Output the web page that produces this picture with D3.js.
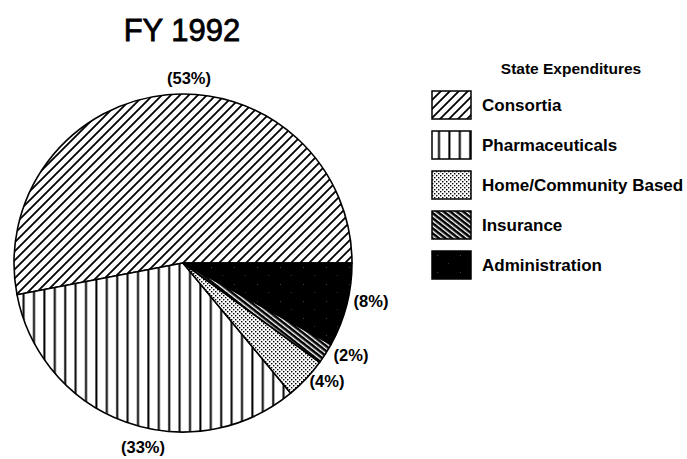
<!DOCTYPE html>
<html lang="en">
<head>
  <meta charset="UTF-8">
  <script src="https://cdn.jsdelivr.net/npm/d3@7"></script>
  <title>FY 1992</title>
  <style>
    body { margin: 0; background: #fff; }
    svg { display: block; background: #fff; font-family: "Liberation Sans", Arial, sans-serif; }
    .title { font-size: 31px; text-anchor: middle; stroke: #000; stroke-width: 0.8px; }
    .pct { font-size: 16.5px; font-weight: bold; text-anchor: middle; }
    .legend text { font-size: 17px; font-weight: bold; }
    .legend .ltitle { font-size: 15.5px; text-anchor: middle; }
  </style>
</head>
<body>
<div id="chart"></div>
<script>
  // data
  var categories = ["Consortia", "Pharmaceuticals", "Home/Community Based", "Insurance", "Administration"];
  var shares = [53, 33, 4, 2, 8];
  var pctLabels = ["(53%)", "(33%)", "(4%)", "(2%)", "(8%)"];
  var chartTitle = "FY 1992";
  var legendTitle = "State Expenditures";

  // layout
  var width = 687, height = 459;
  var cx = 183, cy = 263, radius = 169;
  // label anchor offsets from pie centre (text baseline)
  var labelOffsets = [[6, -179], [-40, 190], [144, 124], [168, 98], [188, 44]];
  var fills = ["url(#hatch)", "url(#vlines)", "url(#dots)", "url(#stripes)", "url(#solid)"];

  var svg = d3.select("#chart")
    .append("svg")
    .attr("width", width)
    .attr("height", height);

  var defs = svg.append("defs");

  // "/" hatching
  var p1 = defs.append("pattern")
    .attr("id", "hatch").attr("patternUnits", "userSpaceOnUse")
    .attr("width", 9).attr("height", 9);
  p1.append("rect").attr("width", 9).attr("height", 9).attr("fill", "#fff");
  p1.append("path")
    .attr("d", "M-1,10 L10,-1 M-3,3 L3,-3 M6,12 L12,6")
    .attr("stroke", "#000").attr("stroke-width", 1.8);

  // vertical lines
  var p2 = defs.append("pattern")
    .attr("id", "vlines").attr("patternUnits", "userSpaceOnUse")
    .attr("width", 10.4).attr("height", 10);
  p2.append("rect").attr("width", 10.4).attr("height", 10).attr("fill", "#fff");
  p2.append("line").attr("x1", 7).attr("x2", 7).attr("y1", 0).attr("y2", 10)
    .attr("stroke", "#000").attr("stroke-width", 2);

  // stipple
  var p3 = defs.append("pattern")
    .attr("id", "dots").attr("patternUnits", "userSpaceOnUse")
    .attr("width", 4).attr("height", 4);
  p3.append("rect").attr("width", 4).attr("height", 4).attr("fill", "#fff");
  p3.append("rect").attr("x", 0).attr("y", 0).attr("width", 1.4).attr("height", 1.4).attr("fill", "#000");
  p3.append("rect").attr("x", 2).attr("y", 2).attr("width", 1.4).attr("height", 1.4).attr("fill", "#000");

  // dense "\" stripes
  var p4 = defs.append("pattern")
    .attr("id", "stripes").attr("patternUnits", "userSpaceOnUse")
    .attr("width", 8).attr("height", 4)
    .attr("patternTransform", "rotate(38)");
  p4.append("rect").attr("width", 8).attr("height", 4).attr("fill", "#fff");
  p4.append("rect").attr("width", 8).attr("height", 2.6).attr("fill", "#000");

  // black with a few faint specks
  var p5 = defs.append("pattern")
    .attr("id", "solid").attr("patternUnits", "userSpaceOnUse")
    .attr("width", 23).attr("height", 17);
  p5.append("rect").attr("width", 23).attr("height", 17).attr("fill", "#000");
  p5.append("rect").attr("x", 5).attr("y", 4).attr("width", 1).attr("height", 1).attr("fill", "#444");
  p5.append("rect").attr("x", 16).attr("y", 12).attr("width", 1).attr("height", 1).attr("fill", "#333");

  // title
  svg.append("text")
    .attr("class", "title")
    .attr("x", 182).attr("y", 41)
    .text(chartTitle);

  // pie, counter-clockwise from 3 o'clock
  var pie = d3.pie()
    .sort(null)
    .value(function(d) { return d; })
    .startAngle(Math.PI / 2)
    .endAngle(Math.PI / 2 - 2 * Math.PI);

  var arc = d3.arc().innerRadius(0).outerRadius(radius);

  var g = svg.append("g")
    .attr("transform", "translate(" + cx + "," + cy + ")");

  g.selectAll(".slice")
    .data(pie(shares))
    .enter()
    .append("path")
    .attr("class", "slice")
    .attr("d", arc)
    .attr("fill", function(d, i) { return fills[i]; })
    .attr("stroke", "#000")
    .attr("stroke-width", 1.6)
    .attr("stroke-linejoin", "round");

  g.selectAll(".pct")
    .data(pctLabels)
    .enter()
    .append("text")
    .attr("class", "pct")
    .attr("x", function(d, i) { return labelOffsets[i][0]; })
    .attr("y", function(d, i) { return labelOffsets[i][1]; })
    .text(function(d) { return d; });

  // legend
  var legend = svg.append("g").attr("class", "legend");

  legend.append("text")
    .attr("class", "ltitle")
    .attr("x", 571).attr("y", 74)
    .text(legendTitle);

  var item = legend.selectAll(".item")
    .data(categories)
    .enter()
    .append("g")
    .attr("class", "item")
    .attr("transform", function(d, i) { return "translate(432," + (91 + i * 40) + ")"; });

  item.append("rect")
    .attr("width", 39).attr("height", 28)
    .attr("fill", function(d, i) { return fills[i]; })
    .attr("stroke", "#000")
    .attr("stroke-width", 1.5);

  item.append("text")
    .attr("x", 50).attr("y", 20)
    .text(function(d) { return d; });
</script>
</body>
</html>
